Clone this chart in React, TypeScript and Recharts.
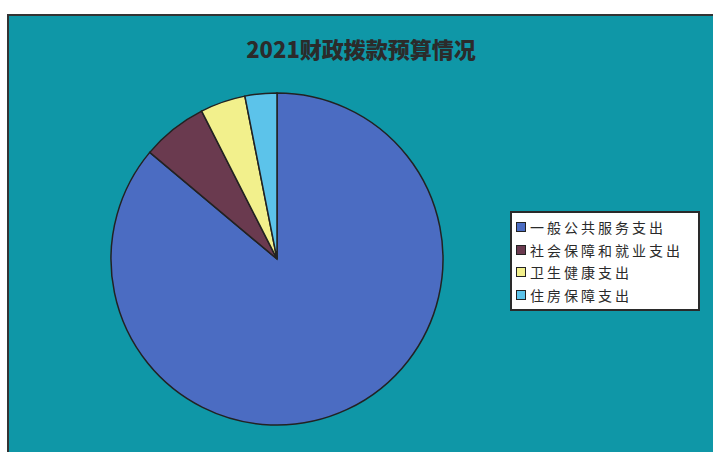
import { PieChart, Pie, Cell, Legend } from "recharts"

const categories = ["一般公共服务支出", "社会保障和就业支出", "卫生健康支出", "住房保障支出"]
const values = [86.1, 6.4, 4.4, 3.1]
const colors = ["#4b6cc2", "#6a3a4f", "#f2f08c", "#5cc3ea"]

const data = categories.map((name, i) => ({ name, value: values[i], color: colors[i] }))

// legend drawn in data order (recharts sorts its payload otherwise)
const renderLegend = () => {
    return (
        <div
            style={{
                background: "#ffffff",
                border: "2px solid #2a2a2a",
                padding: "3px 6px 3px 4px",
                width: 176,
                boxSizing: "content-box",
            }}
        >
            {data.map((entry, index) => (
                <div key={`item-${index}`} style={{ display: "flex", alignItems: "center", height: 22.5 }}>
                    <span
                        style={{
                            display: "inline-block",
                            width: 8,
                            height: 8,
                            background: entry.color,
                            border: "1.5px solid #222",
                            marginRight: 4,
                        }}
                    />
                    <span style={{ fontSize: 14, letterSpacing: 3, color: "#2a2a2a", whiteSpace: "nowrap" }}>
                        {entry.name}
                    </span>
                </div>
            ))}
        </div>
    )
}

export default function App() {
    return (
        <div
            style={{
                position: "absolute",
                left: 0,
                top: 0,
                width: 713,
                height: 452,
                background: "#ffffff",
                overflow: "hidden",
                fontFamily: "'Noto Sans CJK SC', sans-serif",
            }}
        >
            <div
                style={{
                    position: "absolute",
                    left: 7,
                    top: 14,
                    width: 720,
                    height: 450,
                    background: "#0f97a7",
                    borderLeft: "2px solid #333",
                    borderTop: "2px solid #333",
                }}
            />
            <div
                style={{
                    position: "absolute",
                    left: 0,
                    top: 32,
                    width: 722,
                    textAlign: "center",
                    fontSize: 22,
                    fontWeight: 900,
                    color: "#2b2b2b",
                }}
            >
                2021财政拨款预算情况
            </div>
            <div style={{ position: "absolute", left: 0, top: 0 }}>
                <PieChart width={713} height={452}>
                    <Pie
                        data={data}
                        dataKey="value"
                        nameKey="name"
                        cx={272}
                        cy={254}
                        outerRadius={166}
                        startAngle={90}
                        endAngle={-270}
                        stroke="#222"
                        strokeWidth={1.5}
                        isAnimationActive={false}
                    >
                        {data.map((entry, index) => (
                            <Cell key={`cell-${index}`} fill={entry.color} />
                        ))}
                    </Pie>
                    <Legend
                        layout="vertical"
                        content={renderLegend}
                        wrapperStyle={{ left: 510, top: 211, width: "auto" }}
                    />
                </PieChart>
            </div>
        </div>
    )
}
